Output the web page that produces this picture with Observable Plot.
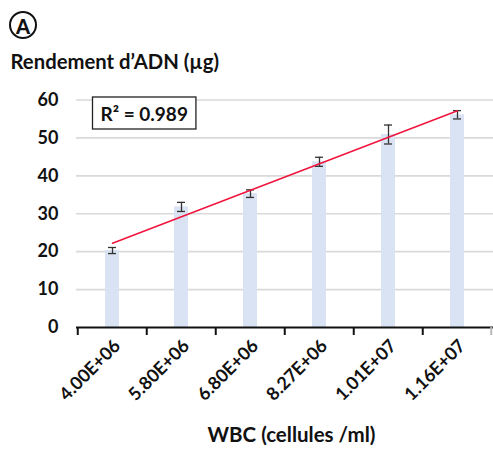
<!DOCTYPE html>
<html><head><meta charset="utf-8">
<script src="https://cdn.jsdelivr.net/npm/d3@7"></script>
<script src="https://cdn.jsdelivr.net/npm/@observablehq/plot@0.6"></script>
<style>
body{margin:0;background:#fff;}
#wrap{position:relative;width:493px;height:450px;}
#badge{position:absolute;left:9px;top:11px;width:28px;height:28px;box-sizing:border-box;border:2.3px solid #111;border-radius:50%;
  display:flex;align-items:center;justify-content:center;font:900 20px Lato, sans-serif;color:#111;line-height:1;padding-top:1px;}
</style></head><body><div id="wrap"><div id="badge"></div></div>
<script>
const categories = ["4.00E+06","5.80E+06","6.80E+06","8.27E+06","1.01E+07","1.16E+07"];
const yields = [20.3, 31.8, 35.3, 43.7, 50.9, 56.1];
const errors = [0.8, 1.2, 1.0, 1.2, 2.5, 1.1];
const yTicks = [0, 10, 20, 30, 40, 50, 60];
const r2Label = "R² = 0.989";
const yTitle = "Rendement d’ADN (µg)";
const xTitle = "WBC (cellules /ml)";
const panelLetter = "A";

const data = categories.map((c, i) => ({cat: c, v: yields[i], e: errors[i], i}));
const mx = d3.mean(data, d => d.i), my = d3.mean(data, d => d.v);
const slope = d3.sum(data, d => (d.i - mx) * (d.v - my)) / d3.sum(data, d => (d.i - mx) ** 2);
const icpt = my - slope * mx;
const fit = data.map(d => ({cat: d.cat, v: icpt + slope * d.i}));

const W = 493, H = 450, mL = 76, mR = 0, mT = 99.5, mB = 123;
const step = (W - mL - mR) / categories.length;
const FONT = "Lato, 'Open Sans', sans-serif";
const ink = "#111";

document.getElementById("badge").textContent = panelLetter;

const plot = Plot.plot({
  width: W, height: H, marginLeft: mL, marginRight: mR, marginTop: mT, marginBottom: mB,
  style: {fontFamily: FONT, fontSize: "18px", color: ink, background: "transparent", overflow: "visible"},
  x: {type: "band", domain: categories, paddingInner: 0.8, paddingOuter: 0.4, axis: null},
  y: {domain: [0, 60], axis: null},
  marks: [
    Plot.ruleY(yTicks.filter(t => t > 0), {y: d => d, stroke: "#d9d9d9", strokeWidth: 1.6}),
    Plot.barY(data, {x: "cat", y: "v", fill: "#dae3f3"}),
    Plot.ruleX(data, {x: "cat", y1: d => d.v - d.e, y2: d => d.v + d.e, stroke: "#333", strokeWidth: 1.3}),
    Plot.tickY(data, {x: "cat", y: d => d.v - d.e, stroke: "#333", strokeWidth: 1.3, insetLeft: 3, insetRight: 3}),
    Plot.tickY(data, {x: "cat", y: d => d.v + d.e, stroke: "#333", strokeWidth: 1.3, insetLeft: 3, insetRight: 3}),
    Plot.line(fit, {x: "cat", y: "v", stroke: "#f0143c", strokeWidth: 1.5}),
    Plot.ruleY([0], {y: d => d, stroke: ink, strokeWidth: 2}),
    Plot.ruleX(categories, {x: d => d, y1: () => 0, y2: () => 0, dx: -step / 2, insetBottom: -8, stroke: ink, strokeWidth: 2}),
    Plot.ruleX(categories.slice(-1), {x: d => d, y1: () => 0, y2: () => 0, dx: step / 2 - 1, insetBottom: -8, stroke: "#bbb", strokeWidth: 2}),
    Plot.text(yTicks, {y: d => d, text: d => String(d), frameAnchor: "left", dx: -18, textAnchor: "end", fontSize: 18, fontWeight: 700, fill: ink}),
    Plot.text(categories, {x: d => d, text: d => d, frameAnchor: "bottom", rotate: -45, textAnchor: "end", dx: 9, dy: 19.5, fontSize: 18, fontWeight: 700, fill: ink}),
    Plot.text([xTitle], {text: d => d, frameAnchor: "bottom", lineAnchor: "bottom", dx: 6.5, dy: 114.7, fontSize: 20.5, fontWeight: 700, fill: ink}),
    Plot.text([yTitle], {text: d => d, frameAnchor: "top-left", lineAnchor: "bottom", textAnchor: "start", dx: -66, dy: -31.5, fontSize: 20.3, fontWeight: 700, fill: ink}),
    Plot.text([r2Label], {text: d => d, frameAnchor: "top-left", lineAnchor: "bottom", textAnchor: "start", dx: 24, dy: 20.5, fontSize: 19, fontWeight: 700, fill: ink})
  ]
});
document.getElementById("wrap").appendChild(plot);
plot.style.position = "absolute";
plot.style.left = "0px";
plot.style.top = "0px";

// frame box round the R² label
const sb = plot.getBoundingClientRect();
const lab = Array.from(plot.querySelectorAll("text")).find(t => t.textContent === r2Label);
if (lab) {
  const b = lab.getBoundingClientRect();
  const padX = 8, padY = 4.5;
  const rect = document.createElementNS("http://www.w3.org/2000/svg", "rect");
  rect.setAttribute("x", b.left - sb.left - padX);
  rect.setAttribute("y", b.top - sb.top - padY);
  rect.setAttribute("width", b.width + 2 * padX);
  rect.setAttribute("height", b.height + 2 * padY);
  rect.setAttribute("fill", "#fff");
  rect.setAttribute("stroke", "#222");
  rect.setAttribute("stroke-width", "1.3");
  const grp = lab.closest("g");
  plot.insertBefore(rect, grp);
}
</script></body></html>
